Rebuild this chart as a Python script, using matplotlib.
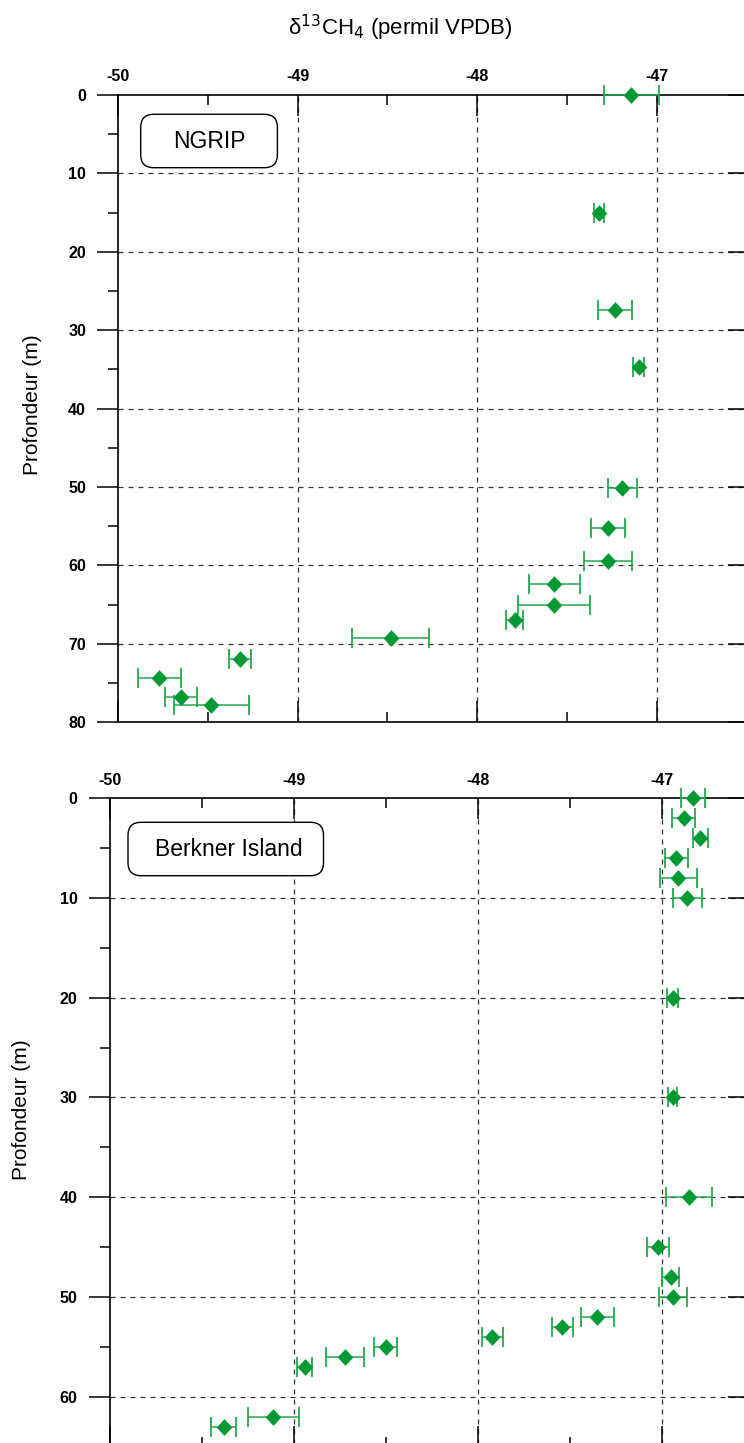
import matplotlib
matplotlib.use("Agg")
import matplotlib.pyplot as plt
from matplotlib.patches import FancyBboxPatch
from matplotlib.transforms import IdentityTransform
from matplotlib.ticker import MultipleLocator
from matplotlib.lines import TICKLEFT

plt.rcParams['font.family'] = ['Liberation Sans', 'DejaVu Sans']

# ---------------- data ----------------
ngrip_depth = [0, 15.0, 27.4, 34.7, 50.1, 55.2, 59.4, 62.4, 65.1, 67.0, 69.2, 71.9, 74.4, 76.8, 77.8]
ngrip_d13 = [-47.14, -47.32, -47.23, -47.10, -47.19, -47.27, -47.27, -47.57, -47.57, -47.79,
             -48.48, -49.32, -49.77, -49.65, -49.48]
ngrip_err = [0.155, 0.03, 0.095, 0.03, 0.082, 0.094, 0.135, 0.141, 0.202, 0.048,
             0.215, 0.06, 0.12, 0.09, 0.207]

berk_depth = [0, 2, 4, 6, 8, 10, 20, 30, 40, 45, 48, 50, 52, 53, 54, 55, 56, 57, 62, 63]
berk_d13 = [-46.83, -46.88, -46.79, -46.92, -46.91, -46.86, -46.94, -46.94, -46.85, -47.02,
            -46.95, -46.94, -47.35, -47.54, -47.92, -48.50, -48.72, -48.94, -49.11, -49.38]
berk_err = [0.066, 0.063, 0.04, 0.063, 0.10, 0.078, 0.028, 0.025, 0.125, 0.061,
            0.046, 0.076, 0.09, 0.057, 0.057, 0.064, 0.105, 0.041, 0.139, 0.068]

x_ticks = [-50, -49, -48, -47]
x_ticklabels = ['-50', '-49', '-48', '-47']
title = 'δ$^{13}$CH$_4$ (permil VPDB)'
ylabel = 'Profondeur (m)'

# ---------------- figure ----------------
W, H = 744, 1443
fig = plt.figure(figsize=(W / 100, H / 100), dpi=100)

MARK = '#009933'
ERRC = '#26a84d'
GRIDC = '#333333'
DIAMOND = [(0, 1), (0.94, 0), (0, -1), (-0.94, 0), (0, 1)]


def px_ax(left, top, right, bottom):
    return [left / W, 1 - bottom / H, (right - left) / W, (bottom - top) / H]


def style_axes(ax, ymax, ymaj_ticks, xpad, rlen):
    ax.set_xlim(-50, -46.5)
    ax.set_ylim(ymax, 0)
    ax.xaxis.set_ticks_position('both')
    ax.set_xticks(x_ticks)
    ax.set_xticklabels(x_ticklabels)
    ax.xaxis.set_minor_locator(MultipleLocator(0.5))
    ax.set_yticks(ymaj_ticks)
    ax.yaxis.set_minor_locator(MultipleLocator(5))
    ax.tick_params(axis='x', which='major', top=True, bottom=True, labeltop=True,
                   labelbottom=False, direction='in', length=15, width=1.1,
                   pad=xpad, labelsize=11.5)
    ax.tick_params(axis='x', which='minor', top=True, bottom=True,
                   direction='in', length=7.5, width=1.1)
    ax.tick_params(axis='y', which='major', left=True, right=True,
                   direction='out', length=15, width=1.1, pad=8, labelsize=11.5)
    ax.tick_params(axis='y', which='minor', left=True, right=False,
                   direction='out', length=7.5, width=1.1)
    for lab in ax.get_xticklabels() + ax.get_yticklabels():
        lab.set_fontweight('bold')
    for t in ax.yaxis.get_major_ticks():
        t.tick2line.set_marker(TICKLEFT)
        t.tick2line.set_markersize(rlen)
    # grid lines
    for xv in [-49, -48, -47]:
        ax.axvline(xv, color=GRIDC, lw=0.9, ls=(0, (4, 4)), zorder=1)
    for yv in ymaj_ticks[1:]:
        if yv < ymax:
            ax.axhline(yv, color=GRIDC, lw=0.9, ls=(0, (4, 4)), zorder=1)
    ax.spines['right'].set_visible(False)
    for s in ['left', 'top', 'bottom']:
        ax.spines[s].set_linewidth(1.2)


def plot_series(ax, x, y, e):
    line, caps, bars = ax.errorbar(x, y, xerr=e, fmt='none', ecolor=ERRC,
                                   elinewidth=1.1, capsize=7.4, capthick=1.3,
                                   zorder=5, clip_on=False)
    for c in caps:
        c.set_clip_on(False)
    for b in bars:
        b.set_clip_on(False)
    ax.plot(x, y, linestyle='none', marker=DIAMOND, markersize=12,
            markerfacecolor=MARK, markeredgewidth=0, zorder=6, clip_on=False)


# top panel: NGRIP
ax1 = fig.add_axes(px_ax(118, 95, 746.3, 722.2))
style_axes(ax1, 80, [0, 10, 20, 30, 40, 50, 60, 70, 80], 8, 13)
plot_series(ax1, ngrip_d13, ngrip_depth, ngrip_err)

# bottom panel: Berkner Island
ax2 = fig.add_axes(px_ax(109.6, 798, 753.6, 1446.7))
style_axes(ax2, 65, [0, 10, 20, 30, 40, 50, 60], 7.5, 18.5)
plot_series(ax2, berk_d13, berk_depth, berk_err)

# labelled boxes
ident = IdentityTransform()
for (x0, ytop, x1, ybot, txt, tx, ty) in [
        (140.7, 114.3, 277.4, 167.7, 'NGRIP', 209, 141),
        (128.0, 822.3, 323.5, 875.7, 'Berkner Island', 229, 849)]:
    box = FancyBboxPatch((x0, H - ybot), x1 - x0, ybot - ytop,
                         boxstyle='round,pad=0,rounding_size=13',
                         transform=ident, facecolor='white', edgecolor='black',
                         lw=1.0, zorder=10)
    fig.add_artist(box)
    fig.text(tx / W, 1 - ty / H, txt, ha='center', va='center',
             fontsize=16.5, zorder=11)

# title and y labels
fig.text(400 / W, 1 - 28 / H, title, ha='center', va='center', fontsize=16)
fig.text(33 / W, 1 - 405 / H, ylabel, rotation=90, ha='center', va='center', fontsize=15)
fig.text(22 / W, 1 - 1110 / H, ylabel, rotation=90, ha='center', va='center', fontsize=15)

fig.savefig('out.png', dpi=100)
